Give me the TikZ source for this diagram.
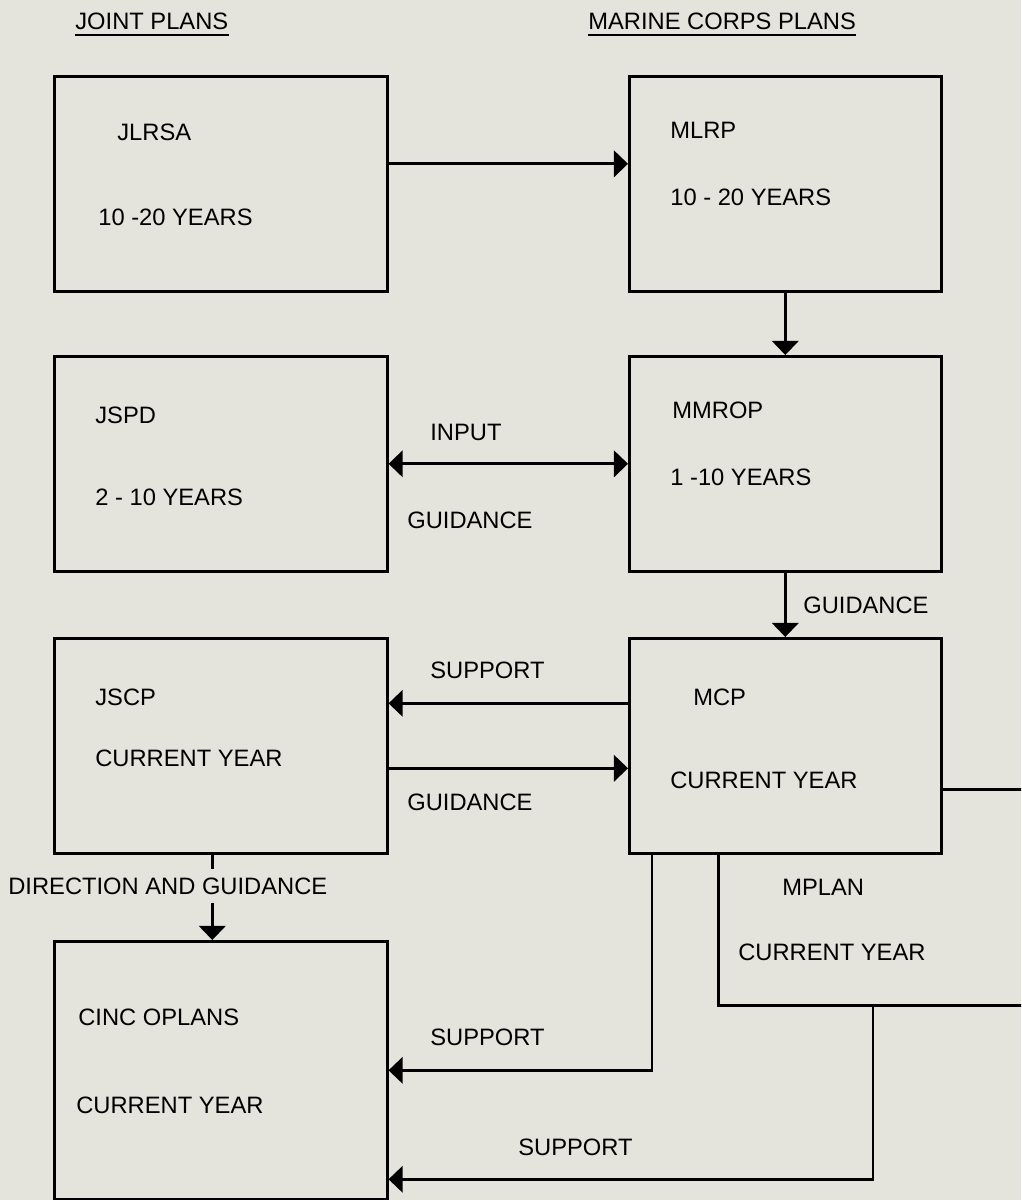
\documentclass[tikz,border=0pt]{standalone}
\usepackage{fontspec}
\setmainfont{Liberation Sans}
\usetikzlibrary{arrows.meta}
\definecolor{paper}{RGB}{228,228,220}

\tikzset{
  >={Triangle[length=8pt,width=15pt]},
  plan/.style={draw, line width=1.5pt, fill=paper, rectangle, inner sep=0pt, anchor=north west},
  lplan/.style={plan, minimum width=6.66cm, minimum height=4.3cm},
  rplan/.style={plan, minimum width=6.24cm, minimum height=4.3cm},
  tag/.style={anchor=west, inner sep=0pt, font=\fontsize{13.5}{16}\selectfont},
  arr/.style={line width=1.5pt, ->},
}

\begin{document}
\begin{tikzpicture}[x=0.02cm,y=-0.02cm]
\useasboundingbox (0,0) rectangle (1021,1200);
\fill[paper] (0,0) rectangle (1021,1200);
\clip (0,0) rectangle (1021,1200);

% headings
\node[tag, anchor=base west] (jhead) at (75,30) {JOINT PLANS};
\node[tag, anchor=base west] (mhead) at (588,30) {MARINE CORPS PLANS};
\draw[line width=1.2pt] ([yshift=-0.08cm]jhead.south west) -- ([yshift=-0.08cm]jhead.south east);
\draw[line width=1.2pt] ([yshift=-0.08cm]mhead.south west) -- ([yshift=-0.08cm]mhead.south east);

% boxes
\node[lplan] (jlrsa) at (53,75) {};
\node[rplan] (mlrp) at (628,75) {};
\node[lplan] (jspd) at (53,355) {};
\node[rplan] (mmrop) at (628,355) {};
\node[lplan] (jscp) at (53,637) {};
\node[plan, minimum width=7cm, minimum height=4.32cm] (mplan) at (717,788) {};
\node[rplan] (mcp) at (628,637) {};
\node[lplan, minimum height=5.16cm] (cinc) at (53,940) {};

% box texts
\node[tag] (jlrsa1) at (117,132) {JLRSA};
\node[tag] (jlrsa2) at (98,217) {10 -20 YEARS};
\node[tag] (mlrp1) at (670,130) {MLRP};
\node[tag] (mlrp2) at (670,197) {10 - 20 YEARS};
\node[tag] (jspd1) at (95,415) {JSPD};
\node[tag] (jspd2) at (95,497) {2 - 10 YEARS};
\node[tag] (mmrop1) at (672,410) {MMROP};
\node[tag] (mmrop2) at (670,477) {1 -10 YEARS};
\node[tag] (jscp1) at (95,697) {JSCP};
\node[tag] (jscp2) at (95,758) {CURRENT YEAR};
\node[tag] (mcp1) at (693,697) {MCP};
\node[tag] (mcp2) at (670,780) {CURRENT YEAR};
\node[tag] (mplan1) at (782,887) {MPLAN};
\node[tag] (mplan2) at (738,952) {CURRENT YEAR};
\node[tag] (cinc1) at (78,1017) {CINC OPLANS};
\node[tag] (cinc2) at (76,1105) {CURRENT YEAR};

% connectors
\draw[arr] ([yshift=0.4cm]jlrsa.east) -- ([yshift=0.4cm]mlrp.west);
\draw[arr] (mlrp.south) -- (mmrop.north);
\draw[arr, <->] (jspd.east) -- (mmrop.west);
\draw[arr] (mmrop.south) -- (mcp.north);
\draw[arr] ([yshift=0.85cm]mcp.west) -- ([yshift=0.85cm]jscp.east);
\draw[arr] ([yshift=-0.45cm]jscp.east) -- ([yshift=-0.45cm]mcp.west);
\draw[arr] ([xshift=-0.17cm]jscp.south) -- ([xshift=-0.17cm]cinc.north);
\draw[arr] ([xshift=0.48cm]mcp.south west) |- (cinc.east);
\draw[arr] ([xshift=3.12cm]mplan.south west) |- ([yshift=-2.18cm]cinc.east);

% connector labels
\node[tag] (lbin) at (430,432) {INPUT};
\node[tag] (lbgd1) at (407,520) {GUIDANCE};
\node[tag] (lbgd2) at (803,605) {GUIDANCE};
\node[tag] (lbsp1) at (430,670) {SUPPORT};
\node[tag] (lbgd3) at (407,802) {GUIDANCE};
\node[tag, fill=paper, inner ysep=5pt] (lbdir) at (8,886) {DIRECTION AND GUIDANCE};
\node[tag] (lbsp2) at (430,1037) {SUPPORT};
\node[tag] (lbsp3) at (518,1147) {SUPPORT};
\end{tikzpicture}
\end{document}
